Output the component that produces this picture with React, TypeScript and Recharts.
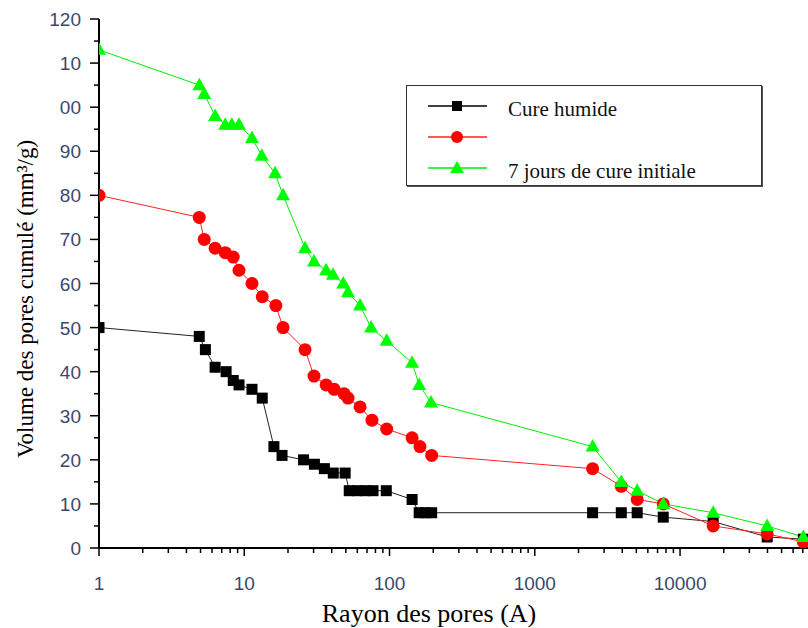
import React from 'react';
import { LineChart, Line, XAxis, YAxis, Legend } from 'recharts';

// Rayon des pores (A) / volume cumulé (mm3/g)
const rayonHumide = [1, 4.9, 5.4, 6.3, 7.5, 8.4, 9.2, 11.3, 13.3, 16, 18.2, 25.6, 30.4, 35.6, 41, 49.5, 52.8, 60, 68, 77, 95, 143, 160, 177, 195, 2500, 3940, 5070, 7660, 16900, 39800, 70600];
const volumeHumide = [50, 48, 45, 41, 40, 38, 37, 36, 34, 23, 21, 20, 19, 18, 17, 17, 13, 13, 13, 13, 13, 11, 8, 8, 8, 8, 8, 8, 7, 6, 2.5, 2];

const rayonRouge = [1, 4.9, 5.3, 6.3, 7.4, 8.4, 9.2, 11.3, 13.3, 16.5, 18.5, 26.2, 30.2, 36.6, 41.6, 48.6, 51.8, 62.7, 75.7, 95.6, 143, 162, 195, 2500, 3940, 5070, 7660, 16900, 39800, 70600];
const volumeRouge = [80, 75, 70, 68, 67, 66, 63, 60, 57, 55, 50, 45, 39, 37, 36, 35, 34, 32, 29, 27, 25, 23, 21, 18, 14, 11, 10, 5, 3.2, 1.4];

const rayon7j = [1, 4.9, 5.3, 6.3, 7.4, 8.2, 9.2, 11.3, 13.2, 16.3, 18.5, 26.2, 30.2, 36.6, 40.8, 48, 51.8, 62.7, 74.6, 95.6, 143, 160, 193, 2500, 3940, 5070, 7660, 16900, 39800, 70600];
const volume7j = [113, 105, 103, 98, 96, 96, 96, 93, 89, 85, 80, 68, 65, 63, 62, 60, 58, 55, 50, 47, 42, 37, 33, 23, 15, 13, 10, 8, 5, 2.5];

const legendLabels = ['Cure humide', '', '7 jours de cure initiale'];

const xMajor = [1, 10, 100, 1000, 10000];
const xMinor = [2, 3, 4, 5, 6, 7, 8, 9];
const xTicks = xMajor.flatMap(d => [d, ...xMinor.map(m => m * d)]).filter(t => t <= 76000);

const yTicks = Array.from({ length: 25 }, (_, i) => i * 5);
// the figure's labels lost their first digit above 100
const yLabels: Record<number, string> = { 110: '10', 100: '00' };

const zip = (r: number[], v: number[]) => r.map((x, i) => ({ r: x, v: v[i] }));
const humide = zip(rayonHumide, volumeHumide);
const rouge = zip(rayonRouge, volumeRouge);
const septJours = zip(rayon7j, volume7j);

const TICK_COLOR = '#3a4870';
const SANS = '"Liberation Sans", Arial, sans-serif';
const SERIF = '"Liberation Serif", "Times New Roman", serif';

const XTick = (props: any) => {
    const { x, y, payload } = props;
    const major = xMajor.includes(payload.value);
    return (
        <g>
            <line x1={x} x2={x} y1={y} y2={y + (major ? 8 : 5)} stroke="#000" strokeWidth={1.5} />
            {major && (
                <text x={x} y={y + 42} textAnchor="middle" fontSize={19} fontFamily={SANS} fill={TICK_COLOR}>
                    {payload.value}
                </text>
            )}
        </g>
    );
};

const YTick = (props: any) => {
    const { x, y, payload } = props;
    const major = payload.value % 10 === 0;
    return (
        <g>
            <line x1={x - (major ? 9 : 5)} x2={x} y1={y} y2={y} stroke="#000" strokeWidth={1.5} />
            {major && (
                <text x={x - 18} y={y + 7} textAnchor="end" fontSize={19} fontFamily={SANS} fill={TICK_COLOR}>
                    {yLabels[payload.value] ?? payload.value}
                </text>
            )}
        </g>
    );
};

const squareDot = (props: any) => {
    const { cx, cy, index } = props;
    if (cx == null || cy == null) return <g key={index} />;
    return <rect key={index} x={cx - 5.5} y={cy - 5.5} width={11} height={11} fill="#000" />;
};

const circleDot = (props: any) => {
    const { cx, cy, index } = props;
    if (cx == null || cy == null) return <g key={index} />;
    return <circle key={index} cx={cx} cy={cy} r={6.5} fill="#ff0000" />;
};

const triangleDot = (props: any) => {
    const { cx, cy, index } = props;
    if (cx == null || cy == null) return <g key={index} />;
    return <path key={index} d={`M${cx},${cy - 7.5} L${cx + 7},${cy + 5} L${cx - 7},${cy + 5} Z`} fill="#00ff00" />;
};

const legendIcons = [
    { color: '#000', shape: (cx: number, cy: number) => <rect x={cx - 5} y={cy - 5} width={10} height={10} fill="#000" /> },
    { color: '#ff2020', shape: (cx: number, cy: number) => <circle cx={cx} cy={cy} r={6} fill="#ff0000" /> },
    { color: '#00ee00', shape: (cx: number, cy: number) => <path d={`M${cx},${cy - 7} L${cx + 7},${cy + 5} L${cx - 7},${cy + 5} Z`} fill="#00ff00" /> },
];

const renderLegend = (props: any) => {
    const payload = props.payload || [];
    return (
        <div
            style={{
                width: 356,
                height: 101,
                boxSizing: 'border-box',
                border: '1.5px solid #333',
                boxShadow: '1px 1px 0 #555',
                background: '#fff',
                position: 'relative',
            }}
        >
            {payload.map((entry: any, i: number) => {
                const icon = legendIcons[i % legendIcons.length];
                const cy = 20 + i * 31;
                return (
                    <div key={`leg-${i}`} style={{ position: 'absolute', left: 0, top: cy - 15, height: 30, width: '100%' }}>
                        <svg width={90} height={30} style={{ position: 'absolute', left: 0, top: 0 }}>
                            <line x1={21} x2={80} y1={15} y2={15} stroke={icon.color} strokeWidth={1.5} />
                            {icon.shape(50, 15)}
                        </svg>
                        <span
                            style={{
                                position: 'absolute',
                                left: 101,
                                top: 3,
                                fontFamily: SERIF,
                                fontSize: 21,
                                lineHeight: '30px',
                                color: '#111',
                                whiteSpace: 'nowrap',
                            }}
                        >
                            {legendLabels[i]}
                        </span>
                    </div>
                );
            })}
        </div>
    );
};

export default function App() {
    return (
        <div style={{ position: 'absolute', left: 0, top: 0, width: 808, height: 628, background: '#fff' }}>
            <LineChart width={808} height={628} margin={{ top: 19, right: 0, bottom: 50, left: 39 }}>
                <XAxis
                    type="number"
                    dataKey="r"
                    scale="log"
                    domain={[1, 76000]}
                    allowDataOverflow
                    ticks={xTicks}
                    interval={0}
                    tickSize={0}
                    tickMargin={0}
                    tick={<XTick />}
                    height={30}
                    axisLine={{ stroke: '#000', strokeWidth: 2 }}
                />
                <YAxis
                    type="number"
                    dataKey="v"
                    domain={[0, 120]}
                    ticks={yTicks}
                    interval={0}
                    tickSize={0}
                    tickMargin={0}
                    tick={<YTick />}
                    width={60}
                    axisLine={{ stroke: '#000', strokeWidth: 2 }}
                />
                <Legend
                    layout="vertical"
                    align="center"
                    verticalAlign="middle"
                    content={renderLegend}
                    wrapperStyle={{ left: 406, top: 85, width: 356, height: 101 }}
                />
                <Line data={humide} dataKey="v" name="Cure humide" stroke="#222" strokeWidth={1} dot={squareDot} isAnimationActive={false} />
                <Line data={rouge} dataKey="v" name="" stroke="#ff2020" strokeWidth={1} dot={circleDot} isAnimationActive={false} />
                <Line data={septJours} dataKey="v" name="7 jours de cure initiale" stroke="#00ee00" strokeWidth={1} dot={triangleDot} isAnimationActive={false} />
            </LineChart>
            <div
                style={{
                    position: 'absolute',
                    left: 25,
                    top: 299,
                    transform: 'translate(-50%, -50%) rotate(-90deg)',
                    fontFamily: SERIF,
                    fontSize: 23,
                    lineHeight: 1,
                    whiteSpace: 'nowrap',
                    color: '#000',
                }}
            >
                Volume des pores cumulé (mm³/g)
            </div>
            <div
                style={{
                    position: 'absolute',
                    left: 429,
                    top: 601,
                    transform: 'translateX(-50%)',
                    fontFamily: SERIF,
                    fontSize: 26,
                    lineHeight: 1,
                    whiteSpace: 'nowrap',
                    color: '#000',
                }}
            >
                Rayon des pores (A)
            </div>
        </div>
    );
}
